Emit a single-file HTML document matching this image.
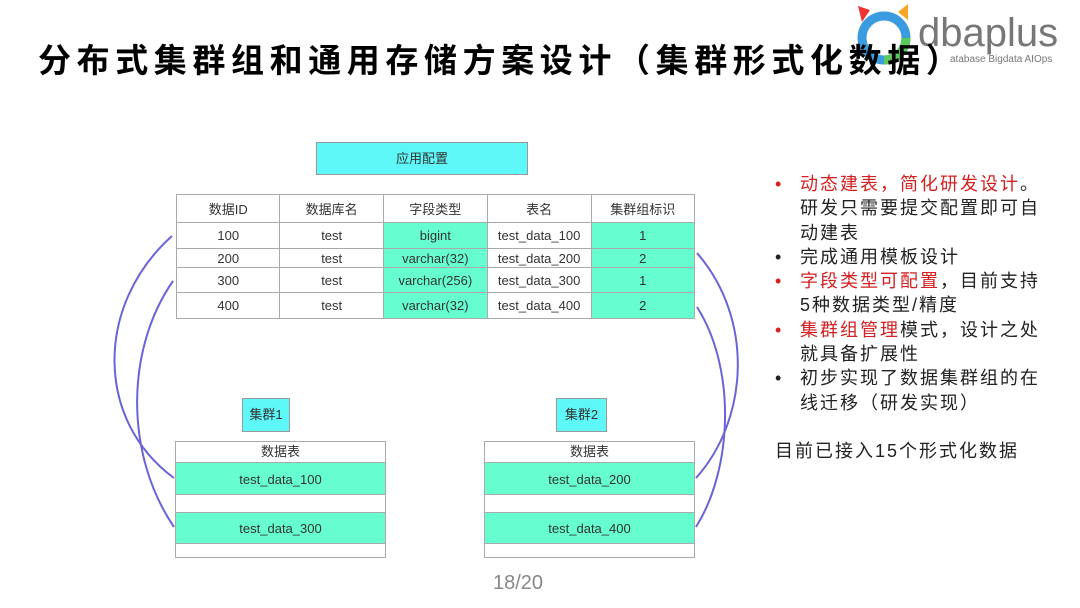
<!DOCTYPE html>
<html><head><meta charset="utf-8"><style>
body{margin:0;width:1080px;height:608px;background:#fff;position:relative;overflow:hidden;font-family:"Liberation Sans","Noto Sans CJK SC",sans-serif}
.a{position:absolute}
.title{left:38px;top:34px;font-size:33px;font-weight:bold;letter-spacing:5.6px;color:#000;white-space:nowrap;z-index:5}
.cy{background:#5ff8f8;border:1px solid #999;box-sizing:border-box;text-align:center;font-size:13px;color:#333}
table{border-collapse:collapse;font-size:13px;color:#333}
td{border:1px solid #aaa;text-align:center;padding:0;width:103px}
.g{background:#66fdcf}
.bx{border:1px solid #aaa;box-sizing:border-box;font-size:13px;color:#333;text-align:center}
.bx div{box-sizing:border-box}
.txt{left:775px;top:172px;font-size:18px;line-height:24.3px;letter-spacing:2px;color:#222;width:268px}
.txt p{margin:0;padding-left:25px;position:relative}
.txt p b{position:absolute;left:0;font-weight:normal}
.r{color:#d42020}
</style></head><body>
<div class="a title">分布式集群组和通用存储方案设计（集群形式化数据）</div>
<!-- logo -->
<svg class="a" style="left:850px;top:0" width="230" height="75">
<polygon points="8,6 20,10 12,22" fill="#e33"/>
<polygon points="58,4 48,12 58,20" fill="#f5a623"/>
<circle cx="34" cy="38" r="22" fill="none" stroke="#3a9be0" stroke-width="9"/>
<path d="M34,60 A22,22 0 0 0 56,38" fill="none" stroke="#5bc85b" stroke-width="9"/>
<text x="68" y="46" font-family="Liberation Sans" font-size="40" fill="#777">dbaplus</text>
<text x="100" y="62" font-family="Liberation Sans" font-size="10" fill="#777">atabase  Bigdata  AIOps</text>
</svg>
<div class="a cy" style="left:316px;top:142px;width:212px;height:33px;line-height:31px">应用配置</div>
<table class="a" style="left:176px;top:194px;width:519px">
<tr style="height:28px"><td>数据ID</td><td>数据库名</td><td>字段类型</td><td>表名</td><td>集群组标识</td></tr>
<tr style="height:26px"><td>100</td><td>test</td><td class="g">bigint</td><td>test_data_100</td><td class="g">1</td></tr>
<tr style="height:19px"><td>200</td><td>test</td><td class="g">varchar(32)</td><td>test_data_200</td><td class="g">2</td></tr>
<tr style="height:25px"><td>300</td><td>test</td><td class="g">varchar(256)</td><td>test_data_300</td><td class="g">1</td></tr>
<tr style="height:26px"><td>400</td><td>test</td><td class="g">varchar(32)</td><td>test_data_400</td><td class="g">2</td></tr>
</table>
<div class="a cy" style="left:242px;top:398px;width:48px;height:34px;line-height:32px">集群1</div>
<div class="a cy" style="left:556px;top:398px;width:51px;height:34px;line-height:32px">集群2</div>
<div class="a bx" style="left:175px;top:441px;width:211px;height:117px">
<div style="height:20px;line-height:19px">数据表</div>
<div class="g" style="height:33px;line-height:33px;border-top:1px solid #aaa;border-bottom:1px solid #aaa">test_data_100</div>
<div style="height:17px"></div>
<div class="g" style="height:32px;line-height:32px;border-top:1px solid #aaa;border-bottom:1px solid #aaa">test_data_300</div>
</div>
<div class="a bx" style="left:484px;top:441px;width:211px;height:117px">
<div style="height:20px;line-height:19px">数据表</div>
<div class="g" style="height:33px;line-height:33px;border-top:1px solid #aaa;border-bottom:1px solid #aaa">test_data_200</div>
<div style="height:17px"></div>
<div class="g" style="height:32px;line-height:32px;border-top:1px solid #aaa;border-bottom:1px solid #aaa">test_data_400</div>
</div>
<svg class="a" style="left:0;top:0" width="1080" height="608">
<g fill="none" stroke="#6a64d8" stroke-width="2">
<path d="M172,236 C95,305 95,420 174,478"/>
<path d="M173,281 C125,350 125,455 174,527"/>
<path d="M697,253 C755,320 748,420 696,478"/>
<path d="M697,307 C737,370 732,470 696,527"/>
</g></svg>
<div class="a txt">
<p class="r"><b>•</b>动态建表，简化研发设计<span style="color:#222">。</span></p>
<p>研发只需要提交配置即可自动建表</p>
<p><b>•</b>完成通用模板设计</p>
<p><b class="r">•</b><span class="r">字段类型可配置</span>，目前支持5种数据类型/精度</p>
<p><b class="r">•</b><span class="r">集群组管理</span>模式，设计之处就具备扩展性</p>
<p><b>•</b>初步实现了数据集群组的在线迁移（研发实现）</p>
<p style="padding-left:0;margin-top:24px">目前已接入15个形式化数据</p>
</div>
<div class="a" style="left:493px;top:572px;font-size:20px;color:#888">18/20</div>
</body></html>
